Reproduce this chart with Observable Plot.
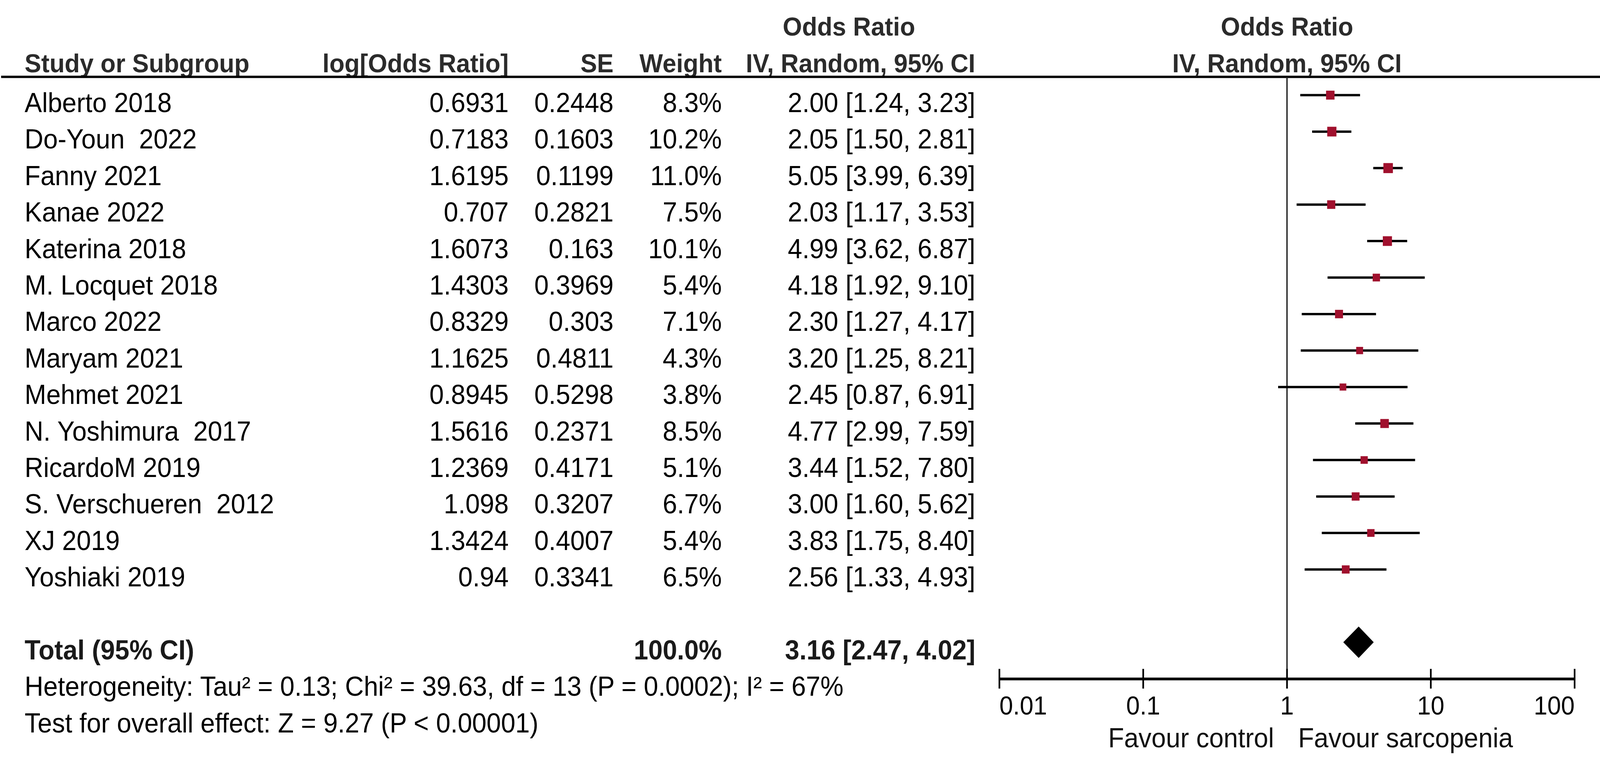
<!DOCTYPE html>
<html>
<head>
<meta charset="utf-8">
<script src="https://cdn.jsdelivr.net/npm/d3@7"></script>
<script src="https://cdn.jsdelivr.net/npm/@observablehq/plot@0.6"></script>
<style>
  html, body { margin: 0; padding: 0; background: #ffffff; overflow: hidden; }
  #chart { position: relative; width: 100vw; height: 100vh; background: #ffffff; overflow: hidden; }
  #chart svg { position: absolute; left: 0; top: 0; width: 100%; height: 100%; max-width: none; }
  #chart svg text { white-space: pre; }
</style>
</head>
<body>
<div id="chart"></div>
<script>
// ---------------- data ----------------
const studies = ["Alberto 2018", "Do-Youn  2022", "Fanny 2021", "Kanae 2022", "Katerina 2018",
  "M. Locquet 2018", "Marco 2022", "Maryam 2021", "Mehmet 2021", "N. Yoshimura  2017",
  "RicardoM 2019", "S. Verschueren  2012", "XJ 2019", "Yoshiaki 2019"];
const logOR = [0.6931, 0.7183, 1.6195, 0.707, 1.6073, 1.4303, 0.8329, 1.1625, 0.8945, 1.5616, 1.2369, 1.098, 1.3424, 0.94];
const se = [0.2448, 0.1603, 0.1199, 0.2821, 0.163, 0.3969, 0.303, 0.4811, 0.5298, 0.2371, 0.4171, 0.3207, 0.4007, 0.3341];
const weight = [8.3, 10.2, 11.0, 7.5, 10.1, 5.4, 7.1, 4.3, 3.8, 8.5, 5.1, 6.7, 5.4, 6.5];
const oddsRatio = [2.00, 2.05, 5.05, 2.03, 4.99, 4.18, 2.30, 3.20, 2.45, 4.77, 3.44, 3.00, 3.83, 2.56];
const ciLow = [1.24, 1.50, 3.99, 1.17, 3.62, 1.92, 1.27, 1.25, 0.87, 2.99, 1.52, 1.60, 1.75, 1.33];
const ciHigh = [3.23, 2.81, 6.39, 3.53, 6.87, 9.10, 4.17, 8.21, 6.91, 7.59, 7.80, 5.62, 8.40, 4.93];
const totalOR = 3.16, totalLow = 2.47, totalHigh = 4.02, totalWeight = 100.0;
const totalLabel = "Total (95% CI)";
const heterogeneityText = "Heterogeneity: Tau\u00B2 = 0.13; Chi\u00B2 = 39.63, df = 13 (P = 0.0002); I\u00B2 = 67%";
const overallText = "Test for overall effect: Z = 9.27 (P < 0.00001)";
const xTicks = [0.01, 0.1, 1, 10, 100];
const xTickLabels = ["0.01", "0.1", "1", "10", "100"];
const favourLeft = "Favour control", favourRight = "Favour sarcopenia";
const headers = {study: "Study or Subgroup", logOR: "log[Odds Ratio]", se: "SE", weight: "Weight",
  orTop: "Odds Ratio", orSub: "IV, Random, 95% CI"};

// ---------------- layout ----------------
const W = 4317, H = 1948;
const FONT = "'Liberation Sans', Arial, Helvetica, sans-serif";
const colX = {study: 66, logOR: 1372, se: 1655, weight: 1947, ci: 2631, orHead: 2290};
const yScale = {domain: [-2, 17], range: [56.2, 1830.8]};   // row index -> pixels
const rowsDy = 21, headDy = 13;
const fmt2 = d3.format(".2f");
const ciText = (o, l, h) => `${fmt2(o)} [${fmt2(l)}, ${fmt2(h)}]`;

const rows = studies.map((s, i) => ({
  i, study: s, logOR: logOR[i], se: se[i], weight: weight[i],
  or: oddsRatio[i], lo: ciLow[i], hi: ciHigh[i]
}));
const iTotal = studies.length + 1, iHet = iTotal + 1, iTest = iTotal + 2;
const iAxis = iHet;

// ---------------- table plot ----------------
const txt = (data, opts) => Plot.text(data, {fontSize: 70, fill: "#000", lineAnchor: "middle", dy: rowsDy, ...opts});
const hd = (label, x, y, anchor) => Plot.text([label], {x: () => x, y: () => y, text: d => d, textAnchor: anchor,
  fontSize: 67, fontWeight: "bold", fill: "#2b2b2b", dy: headDy, lineAnchor: "middle"});

const table = Plot.plot({
  width: W, height: H, margin: 0,
  style: {fontFamily: FONT, background: "transparent"},
  x: {domain: [0, W], range: [0, W], axis: null},
  y: {...yScale, axis: null},
  marks: [
    hd(headers.study, colX.study, -1, "start"),
    hd(headers.logOR, colX.logOR, -1, "end"),
    hd(headers.se, colX.se, -1, "end"),
    hd(headers.weight, colX.weight, -1, "end"),
    hd(headers.orTop, colX.orHead, -2, "middle"),
    hd(headers.orSub, colX.ci, -1, "end"),
    Plot.ruleY([-0.5], {x1: 3, x2: W, stroke: "#000", strokeWidth: 6}),
    txt(rows, {x: () => colX.study, y: "i", text: "study", textAnchor: "start"}),
    txt(rows, {x: () => colX.logOR, y: "i", text: d => String(d.logOR), textAnchor: "end"}),
    txt(rows, {x: () => colX.se, y: "i", text: d => String(d.se), textAnchor: "end"}),
    txt(rows, {x: () => colX.weight, y: "i", text: d => d.weight.toFixed(1) + "%", textAnchor: "end"}),
    txt(rows, {x: () => colX.ci, y: "i", text: d => ciText(d.or, d.lo, d.hi), textAnchor: "end"}),
    txt([totalLabel], {x: () => colX.study, y: () => iTotal, text: d => d, textAnchor: "start", fontWeight: "bold", fill: "#1a1a1a"}),
    txt([totalWeight], {x: () => colX.weight, y: () => iTotal, text: d => d.toFixed(1) + "%", textAnchor: "end", fontWeight: "bold", fill: "#1a1a1a"}),
    txt([totalOR], {x: () => colX.ci, y: () => iTotal, text: () => ciText(totalOR, totalLow, totalHigh), textAnchor: "end", fontWeight: "bold", fill: "#1a1a1a"}),
    txt([heterogeneityText], {x: () => colX.study, y: () => iHet, text: d => d, textAnchor: "start"}),
    txt([overallText], {x: () => colX.study, y: () => iTest, text: d => d, textAnchor: "start"})
  ]
});

// ---------------- forest plot ----------------
const diamond = [
  {x: totalLow, y1: iTotal, y2: iTotal},
  {x: totalOR, y1: iTotal - 0.43, y2: iTotal + 0.43},
  {x: totalHigh, y1: iTotal, y2: iTotal}
];
const tickData = xTicks.map((v, k) => ({v, label: xTickLabels[k], k}));
const forest = Plot.plot({
  width: W, height: H, marginLeft: 2696, marginRight: 69, marginTop: 0, marginBottom: 0,
  style: {fontFamily: FONT, background: "transparent"},
  x: {type: "log", domain: [0.01, 100], axis: null},
  y: {...yScale, axis: null},
  r: {type: "linear", domain: [0, 11], range: [8, 14.5]},
  marks: [
    Plot.text([headers.orTop], {x: () => 1, y: () => -2, text: d => d, fontSize: 67, fontWeight: "bold", fill: "#2b2b2b", dy: headDy}),
    Plot.text([headers.orSub], {x: () => 1, y: () => -1, text: d => d, fontSize: 67, fontWeight: "bold", fill: "#2b2b2b", dy: headDy}),
    Plot.ruleX([1], {y1: -0.5, y2: iAxis, stroke: "#1a1a1a", strokeWidth: 3.5}),
    Plot.ruleY(rows, {y: "i", x1: "lo", x2: "hi", stroke: "#000", strokeWidth: 6}),
    Plot.dot(rows, {x: "or", y: "i", r: "weight", symbol: "square", fill: "#a0102d", stroke: null}),
    Plot.areaY(diamond, {x: "x", y1: "y1", y2: "y2", fill: "#000"}),
    Plot.ruleY([iAxis], {x1: xTicks[0], x2: xTicks[xTicks.length - 1], stroke: "#000", strokeWidth: 7}),
    Plot.ruleX(xTicks, {y1: iAxis - 0.27, y2: iAxis + 0.27, stroke: "#000", strokeWidth: 4.5}),
    Plot.text(tickData.filter(d => d.k === 0), {x: "v", y: () => iAxis, text: "label", textAnchor: "start", fontSize: 66, dy: 70}),
    Plot.text(tickData.filter(d => d.k > 0 && d.k < xTicks.length - 1), {x: "v", y: () => iAxis, text: "label", textAnchor: "middle", fontSize: 66, dy: 70}),
    Plot.text(tickData.filter(d => d.k === xTicks.length - 1), {x: "v", y: () => iAxis, text: "label", textAnchor: "end", fontSize: 66, dy: 70}),
    Plot.text([favourLeft], {x: () => 1, y: () => iAxis, text: d => d, textAnchor: "end", fontSize: 70, dx: -35, dy: 153, fill: "#111"}),
    Plot.text([favourRight], {x: () => 1, y: () => iAxis, text: d => d, textAnchor: "start", fontSize: 70, dx: 30, dy: 153, fill: "#111"})
  ]
});

// stretch both layers to fill the whole viewport exactly like the reference frame
for (const svg of [table, forest]) svg.setAttribute("preserveAspectRatio", "none");
const chart = document.getElementById("chart");
chart.appendChild(table);
chart.appendChild(forest);
</script>
</body>
</html>
